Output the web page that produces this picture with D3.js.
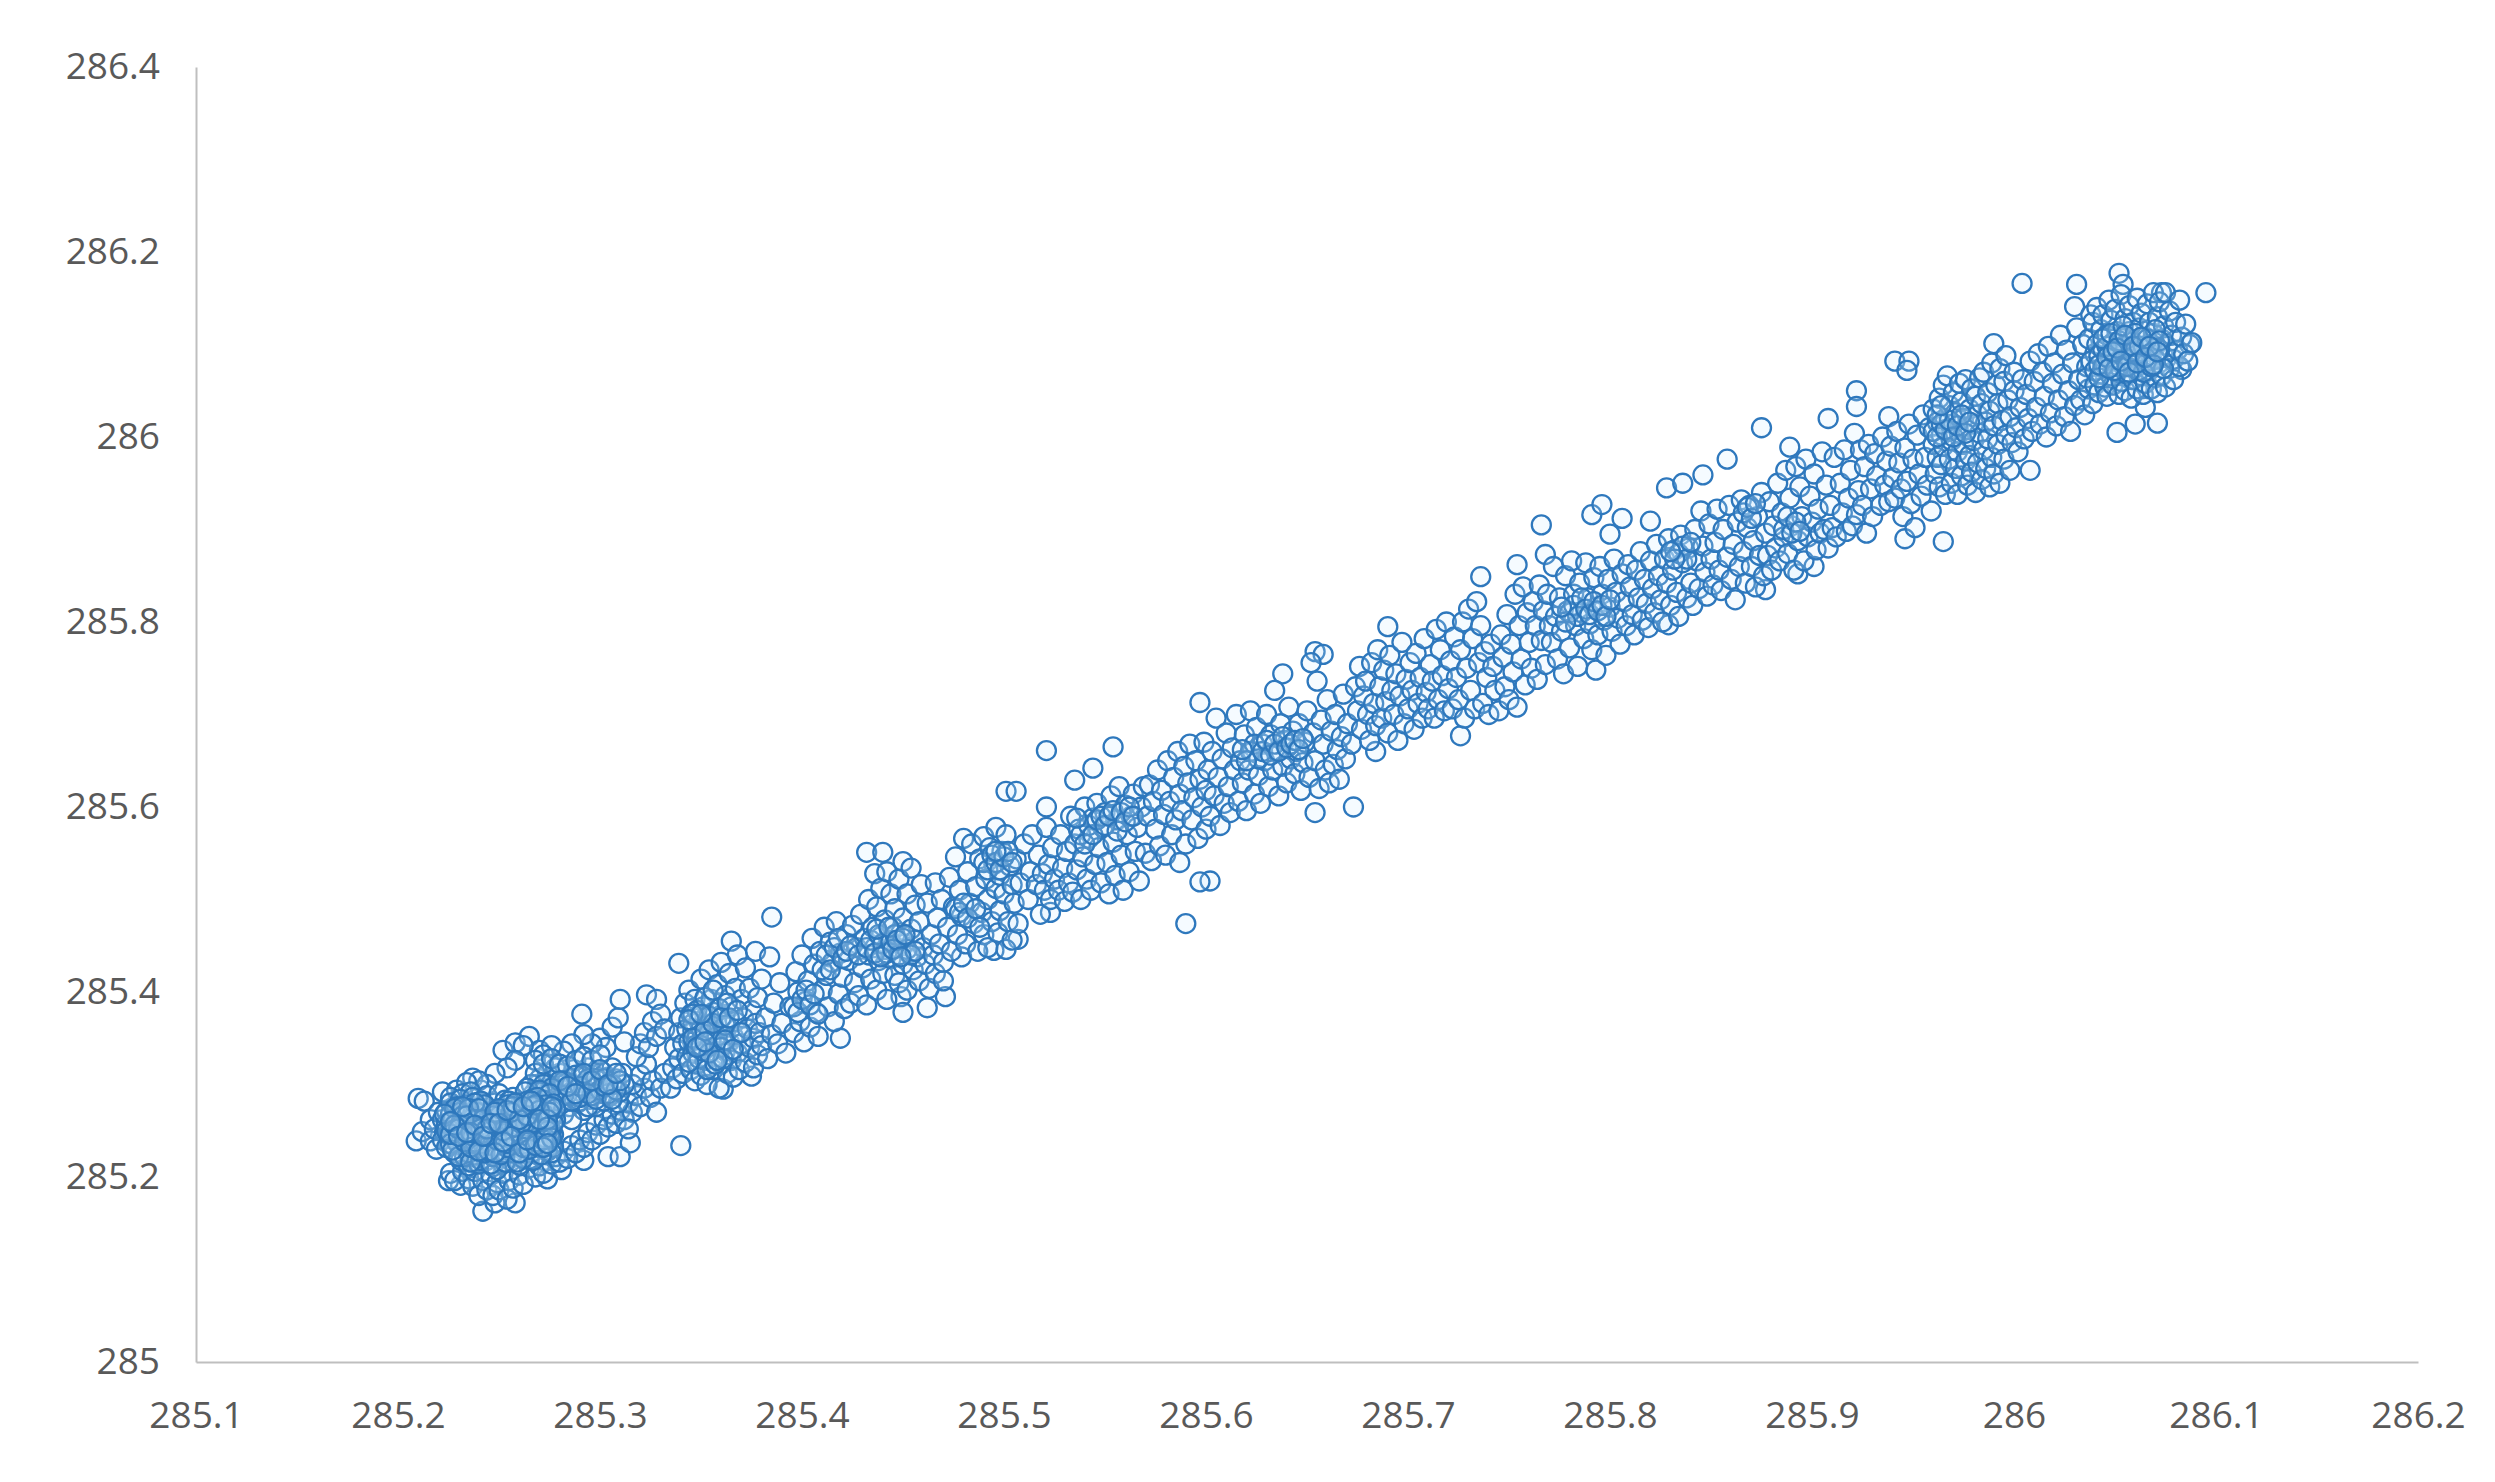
<!DOCTYPE html>
<html>
<head>
<meta charset="utf-8">
<script src="https://cdn.jsdelivr.net/npm/d3@7"></script>
<style>
  body { margin: 0; background: #fff; }
</style>
</head>
<body>
<div id="chart"></div>
<script>
// x,y pairs, in thousandths above 285
var outliers = [210,285,213,282,209,239,212,249,216,239,222,292,229,294,237,307,241,294,252,337,258,345,265,352,270,337,291,376,242,163,248,172,258,172,231,191,225,196,274,198,281,208,292,218,304,222,310,222,315,237,340,234,310,392,323,397,328,392,339,431,365,455,385,481,432,551,440,551,450,541,449,395,450,378,462,383,471,395,419,350,361,295,375,309,590,474,602,520,597,519,521,661,554,665,544,642,535,629,501,617,506,617,521,600,523,486,507,457,495,445,479,438,597,713,638,744,654,768,658,765,654,594,673,600,684,660,690,795,726,677,736,849,754,862,766,905,768,873,791,916,796,927,800,895,806,912,820,909,828,945,836,950,846,959,875,1010,858,976,889,989,908,1020,922,1050,922,1033,938,1022,941,1082,948,1082,947,1072,965,887,946,890,990,1101,1004,1166,1031,1165,1030,1141,1052,1177,1054,1165,1095,1156,1073,1156,1051,1005,1071,1015,1060,1014,1008,964,1087,1100,1083,1073,1065,1032,793,748,829,797,877,835,893,852,901,860];

var lowDense = [222,262,223,248,224,271,225,236,226,255,226,280,227,243,228,265,228,226,229,252,230,274,230,238,231,284,231,218,232,259,233,245,233,268,234,229,234,278,235,252,235,212,236,263,236,240,237,286,237,222,238,272,238,248,239,257,239,233,240,281,240,214,241,266,241,243,242,226,242,274,243,254,243,236,244,288,244,218,245,262,245,247,246,271,246,229,247,211,247,256,248,280,248,240,249,266,249,222,250,250,250,290,251,234,251,273,252,214,252,258,253,244,253,283,254,226,254,265,255,238,255,275,256,252,256,217,257,286,257,231,258,262,258,243,259,272,259,224,260,254,260,213,261,281,261,237,262,266,262,248,263,292,263,227,264,258,264,275,265,241,265,219,266,268,266,251,267,285,267,232,268,262,268,245,269,276,269,224,270,254,270,294,271,238,271,268,272,248,272,283,273,229,273,260,274,272,274,241,275,290,275,253,276,234,276,265,277,279,277,246,222,240,224,258,226,268,228,246,230,262,232,234,234,256,236,274,238,224,240,262,242,250,244,270,246,240,248,260,250,228,252,270,254,246,256,264,258,232,260,274,262,240,264,250,266,226,268,270,270,244,272,256,274,228,276,250,278,262,224,232,229,276,233,222,237,256,241,282,245,236,249,208,253,268,257,254,261,226,265,262,269,286,273,250,277,232,239,270,243,264,247,232,251,256,255,282,259,236,263,272,267,244,271,258];

var lowFill = [225,246,227,262,229,238,231,270,233,252,235,226,237,264,239,244,241,218,243,278,245,254,247,222,249,272,251,244,253,216,255,260,257,226,259,248,261,270,263,236,265,254,267,218,269,262,271,232,273,278,275,244,277,258,224,250,226,236,228,274,230,222,232,266,234,242,236,216,238,280,240,252,242,236,244,260,246,214,248,246,250,266,252,226,254,278,256,236,258,270,260,246,262,220,264,282,266,240,268,256,270,232,272,268,274,250,276,226,278,274,223,268,227,229,231,256,235,274,239,262,243,226,247,266,251,224,255,252,259,216,263,258,267,276,271,224,275,270,226,246,230,252,234,266,238,238,242,262,246,250,250,274,254,232,258,254,262,232,266,258,270,272,274,262,233,238,237,244,241,252,245,228,249,240,253,236,257,276,261,258,265,230,269,238,273,242,236,232,240,228,244,244,248,226,252,250,256,270,260,226,264,266,268,234,272,240,276,242,228,256,232,276,236,248,240,274,244,252,248,270,252,238,256,244,260,262,264,240,268,278,272,232,274,254,226,260,230,244,234,248,238,256,242,244,246,258,250,258,254,272,258,280,262,276,266,282,270,262,274,236,276,276];

var lowUpper = [265,278,267,290,269,300,271,284,273,296,275,306,277,288,279,300,280,312,281,282,283,294,284,306,285,276,286,288,287,316,288,298,289,280,290,308,291,292,292,272,293,302,294,318,295,284,296,296,297,310,298,276,299,290,300,304,301,314,302,282,303,298,304,308,305,288,306,318,307,296,308,306,309,280,310,292,311,312,312,300,282,268,286,262,290,282,294,276,298,298,302,290,270,306,274,312,278,318,266,300,268,312,272,322,276,328,280,322,284,320,288,326,292,330,296,326,300,332,268,284,272,292,276,282,278,294,280,286,282,304,284,290,286,300,288,310,290,286,292,296,294,306,296,288,298,306,300,294,302,306,304,290,306,300,308,294,310,304,270,280,274,288,278,282,282,288,286,282,290,298,294,290,298,284,302,298,306,284,272,300,276,296,280,304,284,298,288,290,292,312,296,304,300,316,304,300,308,312,270,292,266,284,264,296];

var lowMesh = [226,204,228,196,232,206,235,198,237,190,238,206,240,180,242,196,244,186,246,202,247,180,249,194,250,186,252,204,254,176,255,196,257,188,260,202,262,192,265,210,268,200,270,212,272,204,276,214,278,222,280,216,282,228,284,220,286,234,288,226,290,240,292,232,294,248,296,240,298,256,300,246,302,262,304,254,306,268,308,258,310,272,312,262,314,280,316,270,318,288,320,276,322,296,314,252,316,300,320,310,323,322,325,286,326,304,328,270,330,296,332,312,318,330,320,344,322,356,324,340,326,368,328,352,330,376,332,360,300,350,303,340,306,362,309,372,312,346,296,344,292,354,286,344,282,336,276,342,272,332,268,326,262,342,258,326,254,318,248,312,244,300,240,304,234,302,232,290,236,292,226,286,216,262,218,252,220,270,219,230];

var cluster350 = [335,296,336,318,337,340,338,306,339,356,339,328,340,372,341,344,341,312,342,388,343,360,343,330,344,402,344,346,345,316,345,376,346,334,346,358,347,304,347,392,348,350,348,322,349,368,349,340,350,414,350,310,351,384,351,352,352,326,352,372,353,344,353,300,354,424,354,360,355,336,355,392,356,316,356,378,357,350,357,330,358,408,358,364,359,342,359,296,360,432,360,322,361,374,361,354,362,336,362,396,363,312,363,362,364,346,364,420,365,326,365,384,366,352,366,308,367,404,367,368,368,334,368,440,369,356,369,316,370,392,370,344,371,372,372,324,372,426,373,360,374,340,374,404,375,380,376,350,376,318,377,444,377,366,378,332,378,394,379,356,380,414,380,342,382,372,383,328,384,438,385,354,386,388,388,344,389,410,390,366,346,366,347,342,348,380,349,328,350,360,351,336,352,394,353,316,354,374,355,348,356,402,357,322,358,352,359,382,360,340,361,328,362,364,363,388,346,350,344,324,350,342,352,358,354,334,356,366,358,326,348,340,346,376,344,370,352,346,350,376,360,372,362,348,364,372,366,338,368,380,370,356];

var band400 = [392,334,394,384,396,356,397,422,398,400,399,368,400,440,401,346,402,390,403,412,404,362,405,458,406,430,407,378,408,352,409,444,410,402,411,470,412,418,413,384,414,454,415,432,416,368,417,476,418,398,419,442,420,416,421,382,422,462,423,434,424,388,425,472,426,410,427,448,428,396,429,484,430,426,431,458,432,386,433,440,433,500,434,414,435,470,436,448,436,528,437,402,437,492,438,434,439,460,439,512,440,420,441,446,441,478,442,392,442,530,443,456,444,436,444,506,445,470,446,418,446,490,447,448,448,410,448,522,449,464,450,430,450,480,451,452,452,402,452,506,453,442,454,468,454,534,455,424,456,456,456,494,457,438,458,412,458,476,459,516,460,448,461,430,462,496,463,404,464,462,465,440,466,518,466,420,467,480,468,452,469,500,470,432,470,412,396,384,398,378,400,392,402,402,404,386,406,398,408,376,410,424,412,440,414,424,416,448,418,458,420,436,422,444,424,450,428,440,432,448,434,456,436,442,438,462,440,452,442,442,444,454,446,462,448,440,450,458,452,446,454,440,456,444,437,468,439,438,443,470,445,446,447,456,449,438,451,462];

var band500 = [472,470,473,524,474,444,475,492,476,546,477,462,478,510,479,482,480,566,481,452,482,530,483,496,484,560,485,474,486,514,487,444,488,544,489,486,490,462,490,568,491,522,492,500,492,448,493,556,494,476,495,538,496,512,496,578,497,464,498,526,498,488,499,552,500,506,501,446,501,570,502,476,503,536,504,456,504,516,505,496,506,544,507,474,508,518,510,560,512,500,513,530,514,570,516,516,517,548,518,484,519,528,520,510,521,578,522,538,523,500,524,556,525,522,527,510,528,570,529,534,530,498,531,552,532,518,533,590,534,508,535,560,536,532,537,576,538,500,539,546,540,600,541,522,542,566,543,510,544,588,545,538,546,604,547,556,548,518,549,578,550,594,551,540,552,506,553,612,554,562,555,526,556,586,557,622,558,548,559,510,560,602,561,570,562,530,563,590,564,614,565,552,566,578,567,520,568,600,569,622,570,550,476,490,478,486,480,496,482,480,486,490,488,470,490,540,492,532,494,548,496,540,498,532,500,546,502,552,496,552,504,540,538,570,540,560,542,580,544,570,546,586,548,590,536,588,550,580,552,590,554,596,556,574,558,594,560,584,562,600,564,590];

var band600 = [571,590,572,624,573,542,574,606,575,576,576,640,577,558,578,618,579,592,580,548,581,650,582,606,583,570,584,632,585,586,586,660,587,614,587,540,588,596,589,644,590,560,591,626,592,668,593,586,594,610,595,650,596,566,597,630,598,600,599,670,600,576,600,618,601,640,602,590,603,660,604,612,605,696,606,632,607,580,608,652,609,604,610,680,611,622,612,594,613,664,614,640,615,700,616,606,617,650,618,626,619,678,620,596,621,640,622,704,623,660,624,614,625,686,626,634,627,604,628,668,629,650,630,700,631,622,632,678,633,640,634,726,635,660,636,612,637,690,638,644,639,672,640,626,641,708,642,652,643,682,644,636,645,660,646,690,647,618,648,648,649,670,650,704,651,632,652,756,653,680,654,650,655,736,656,620,657,694,658,668,659,640,660,716,661,626,662,682,663,646,664,700,665,662,666,630,667,676,668,722,669,652,670,690,622,660,624,668,626,652,628,660,630,672,632,656,634,668,636,660,638,676,640,664,642,668,644,672,646,662,648,674,620,650,618,662];

var band700 = [672,668,674,730,675,704,676,752,677,684,678,720,679,736,680,700,681,672,682,756,683,712,684,688,685,770,686,730,687,696,688,748,689,714,690,680,691,764,692,726,693,700,694,744,695,672,696,720,697,778,698,690,699,738,700,706,701,756,702,726,703,684,704,766,705,712,706,740,707,696,708,782,709,724,710,706,711,754,712,736,713,696,714,792,715,716,716,770,717,742,718,704,719,800,720,728,721,758,722,706,723,784,724,740,725,716,726,770,727,800,728,696,729,750,730,814,731,726,732,782,733,706,734,822,735,756,736,796,737,712,738,768,739,740,740,700,741,776,742,752,743,726,745,704,746,786,747,762,748,730,749,808,750,716,751,776,752,746,753,830,754,708,755,796,756,760,757,838,758,732,759,810,760,778];

var band800 = [761,750,762,822,763,796,764,738,765,840,766,780,767,812,768,754,769,830,770,796,771,778,772,860,773,806,774,760,775,826,776,790,777,744,778,850,779,812,780,772,781,866,782,830,783,796,784,752,785,842,786,810,787,782,788,864,789,826,790,798,791,770,792,848,793,816,794,786,795,860,796,830,797,802,798,764,799,846,800,816,801,790,802,868,803,832,804,804,805,776,806,852,807,822,808,796,809,862,810,838,811,808,812,786,813,856,814,826,815,876,816,802,817,846,818,820,819,794,820,866,821,836,822,810,823,884,824,850,825,824,826,800,827,868,828,842,829,890,830,818,831,856,832,878,833,832,834,806,835,894,836,864,838,826,839,880,840,842,841,818,842,900,843,866,844,836,845,920,846,882,847,854,848,828,849,906,850,868,851,840,852,886,853,922,854,856,855,834,856,900,858,870,859,926,860,846,780,810,782,818,784,806,786,826,788,814,790,808,792,822,794,812,796,818,798,806,800,824,778,800,776,816,834,874,836,882,838,868,840,886,832,868,830,876];

var band900 = [861,884,862,824,863,908,864,860,865,932,866,876,867,842,868,902,869,926,870,860,871,888,872,838,873,914,874,872,875,940,876,850,877,896,878,872,879,930,880,856,881,904,882,880,883,950,884,866,885,918,886,892,887,964,888,874,889,934,890,904,891,856,892,968,893,888,894,946,895,914,896,866,897,976,898,892,899,936,900,908,901,960,902,878,903,922,904,896,905,984,906,900,907,948,908,880,909,926,910,902,911,978,912,892,914,950,915,918,916,986,917,898,918,934,919,964,920,904,921,1004,922,916,923,942,924,986,925,926,926,968,927,896,928,992,929,944,930,914,931,982,932,958,934,926,935,1000,936,948,937,974,938,930,939,990,940,956,941,934,942,1006,943,972,944,944,945,914,946,988,947,952,948,1014,949,928,950,976,951,902,952,1002,953,960,954,936,955,1024,956,978,957,948,958,1010,959,920,866,918,868,924,870,912,872,928,886,900,888,914,890,896,892,908,894,898];

var band970 = [960,992,960,1030,961,960,962,1016,962,978,963,1042,963,946,964,1002,964,970,965,1056,965,990,966,1020,966,938,967,1006,967,1066,968,976,968,1034,969,950,969,996,970,1014,970,1048,971,966,971,1026,972,984,972,938,973,1058,973,1004,974,958,974,1038,975,992,975,1020,976,974,976,1062,977,948,977,1008,978,1030,978,980,979,1052,979,962,980,1014,980,996,981,1044,981,940,982,1024,982,972,983,1064,983,1004,984,954,984,1036,985,986,985,1070,986,1016,986,966,987,1048,987,998,988,946,988,1028,989,978,989,1080,990,1012,990,960,991,1056,992,992,992,1036,993,1074,993,950,994,1018,995,976,995,1060,996,1002,996,1088,997,1040,998,964,998,1022,999,994,1000,1070,1000,1050,1001,1010,1002,984,1003,1032,1004,1062,1005,998,960,1006,962,1000,964,1014,966,1008,968,1018,970,1000,972,1012,974,1024,976,1004,978,1016,962,1024,964,1034];

var band1020 = [1006,1046,1007,1020,1008,1082,1009,1006,1010,1060,1011,1032,1012,1090,1013,1014,1014,1070,1015,1044,1016,1000,1017,1098,1018,1026,1019,1058,1020,1080,1021,1012,1022,1040,1023,1110,1024,1068,1025,1022,1026,1094,1027,1050,1028,1006,1029,1080,1030,1034,1031,1118,1032,1062,1033,1040,1034,1100,1035,1024,1036,1076,1037,1052,1038,1132,1039,1036,1040,1090];

var highDense = [1036,1064,1037,1106,1038,1082,1039,1124,1040,1056,1040,1072,1041,1100,1041,1140,1042,1088,1042,1048,1043,1116,1043,1068,1044,1132,1044,1094,1045,1054,1045,1078,1046,1110,1046,1044,1047,1148,1047,1090,1048,1066,1048,1126,1049,1102,1049,1056,1050,1082,1050,1138,1051,1070,1051,1114,1052,1046,1052,1092,1053,1154,1053,1060,1054,1106,1054,1078,1055,1128,1055,1050,1056,1096,1056,1068,1057,1142,1057,1114,1058,1084,1058,1042,1059,1124,1059,1062,1060,1100,1060,1074,1061,1150,1061,1052,1062,1090,1062,1118,1063,1066,1063,1134,1064,1080,1064,1046,1065,1108,1065,1058,1066,1144,1066,1094,1067,1072,1067,1124,1068,1052,1068,1086,1069,1112,1069,1156,1070,1064,1070,1098,1071,1130,1071,1048,1072,1080,1072,1146,1073,1106,1073,1066,1074,1120,1074,1088,1075,1156,1075,1054,1076,1098,1077,1074,1077,1136,1078,1110,1079,1084,1079,1062,1080,1124,1081,1094,1082,1148,1082,1076,1083,1108,1084,1090,1085,1122,1086,1082,1088,1102,1050,1090,1052,1076,1054,1098,1056,1084,1058,1104,1060,1088,1062,1072,1064,1098,1066,1082,1048,1084,1046,1098,1044,1076,1042,1064,1068,1100,1070,1084,1072,1094,1074,1074,1042,1078,1044,1106,1046,1086,1048,1112,1050,1072,1052,1104,1054,1120,1056,1076,1058,1092,1060,1112,1062,1098,1064,1070,1066,1106,1068,1076,1070,1116,1072,1104,1047,1074,1049,1092,1051,1096,1053,1082,1055,1110,1057,1070,1059,1098,1061,1080,1063,1108,1065,1086,1067,1098,1069,1078,1071,1092];

var xTicks = [285.1, 285.2, 285.3, 285.4, 285.5, 285.6, 285.7, 285.8, 285.9, 286, 286.1, 286.2];
var yTicks = [285, 285.2, 285.4, 285.6, 285.8, 286, 286.2, 286.4];

var width = 2495;
var height = 1482;

var margin = {
    top: 67,
    bottom: 120,
    left: 196,
    right: 77,
};

function toPoints(flat) {
    var out = [];
    for (var i = 0; i < flat.length; i += 2) {
        out.push({ x: 285 + flat[i] / 1000, y: 285 + flat[i + 1] / 1000 });
    }
    return out;
}

var points = [outliers, lowMesh, lowUpper, lowDense, lowFill, cluster350, band400, band500, band600, band700, band800, band900, band970, band1020, highDense]
    .map(toPoints)
    .reduce(function(a, b) { return a.concat(b); }, []);

var x = d3.scaleLinear()
    .domain([285.1, 286.2])
    .range([margin.left, width - margin.right]);

var y = d3.scaleLinear()
    .domain([285, 286.4])
    .range([height - margin.bottom, margin.top]);

var svg = d3.select("#chart")
    .append("svg")
    .attr("width", width)
    .attr("height", height)
    .style("display", "block");

var xAxis = d3.axisBottom(x)
    .tickValues(xTicks)
    .tickFormat(function(d) { return String(d); })
    .tickSize(0)
    .tickPadding(40);

var yAxis = d3.axisLeft(y)
    .tickValues(yTicks)
    .tickFormat(function(d) { return String(d); })
    .tickSize(0)
    .tickPadding(36);

[[xAxis, "translate(0," + (height - margin.bottom) + ")"], [yAxis, "translate(" + margin.left + ",0)"]].forEach(function(a) {
    var g = svg.append("g")
        .attr("transform", a[1])
        .call(a[0]);
    g.select(".domain")
        .attr("stroke", "#bfbfbf")
        .attr("stroke-width", 2);
    g.selectAll("text")
        .attr("fill", "#595959")
        .style("font-family", "'Open Sans'")
        .style("font-size", "37px");
});

svg.append("g")
    .selectAll("circle")
    .data(points)
    .enter()
    .append("circle")
    .attr("cx", function(d) { return x(d.x); })
    .attr("cy", function(d) { return y(d.y); })
    .attr("r", 9.5)
    .attr("fill", "#cfeaff")
    .attr("fill-opacity", 0.2)
    .attr("stroke", "#2e78bd")
    .attr("stroke-width", 2.3);
</script>
</body>
</html>
